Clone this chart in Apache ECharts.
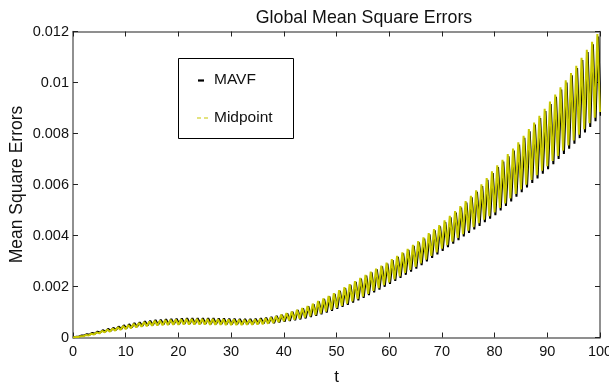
<!DOCTYPE html>
<html>
<head>
<meta charset="utf-8">
<script src="https://cdn.jsdelivr.net/npm/echarts@6/dist/echarts.min.js"></script>
<style>
  html, body { margin: 0; padding: 0; background: #fff; }
  #chart { width: 609px; height: 386px; }
</style>
</head>
<body>
<div id="chart"></div>
<script>
// Global mean square error of two integrators over time t = 0..100.
// Each error curve oscillates once per unit of t: troughs near whole t, peaks half a unit later.

const seriesNames = ['MAVF', 'Midpoint'];
const xTickLabels = ['0', '10', '20', '30', '40', '50', '60', '70', '80', '90', '100'];
const yTickLabels = ['0', '0.002', '0.004', '0.006', '0.008', '0.01', '0.012'];

// MAVF: troughs (t = k + 0.15, k = 0..100) and peaks (t = k + 0.65, k = 0..99)
const mavfTroughs = [
  0, 0.00004, 0.00008, 0.00011, 0.00015, 0.00019, 0.00023, 0.00026, 0.0003, 0.00033,
  0.00036, 0.00039, 0.00042, 0.00045, 0.00047, 0.00049, 0.0005, 0.00051, 0.00052, 0.00053,
  0.00053, 0.00054, 0.00054, 0.00054, 0.00054, 0.00054, 0.00053, 0.00053, 0.00053, 0.00052,
  0.00052, 0.00052, 0.00052, 0.00053, 0.00053, 0.00054, 0.00055, 0.00056, 0.00056, 0.00059,
  0.00062, 0.00065, 0.00068, 0.00071, 0.00075, 0.0008, 0.00085, 0.00091, 0.00098, 0.00105,
  0.00112, 0.0012, 0.00128, 0.00137, 0.00146, 0.00155, 0.00166, 0.00177, 0.00188, 0.00199,
  0.0021, 0.00222, 0.00234, 0.00246, 0.00258, 0.0027, 0.00284, 0.00298, 0.00312, 0.00326,
  0.0034, 0.00354, 0.00368, 0.00382, 0.00396, 0.0041, 0.00424, 0.00438, 0.00452, 0.00466,
  0.0048, 0.00498, 0.00516, 0.00534, 0.00552, 0.0057, 0.00588, 0.00606, 0.00624, 0.00642,
  0.0066, 0.0068, 0.007, 0.0072, 0.0074, 0.0076, 0.00782, 0.00804, 0.00826, 0.00848,
  0.0087
];
const mavfPeaks = [
  0.00003, 0.00008, 0.00013, 0.00018, 0.00023, 0.00029, 0.00034, 0.00038, 0.00043, 0.00048,
  0.00052, 0.00057, 0.0006, 0.00064, 0.00066, 0.00069, 0.0007, 0.00072, 0.00073, 0.00074,
  0.00075, 0.00076, 0.00076, 0.00076, 0.00076, 0.00076, 0.00076, 0.00075, 0.00075, 0.00074,
  0.00074, 0.00073, 0.00073, 0.00073, 0.00074, 0.00076, 0.00078, 0.00081, 0.00085, 0.00089,
  0.00095, 0.00101, 0.00108, 0.00115, 0.00123, 0.00131, 0.00141, 0.00151, 0.00161, 0.00171,
  0.00183, 0.00194, 0.00206, 0.00218, 0.00231, 0.00243, 0.00255, 0.00267, 0.00279, 0.0029,
  0.00303, 0.00316, 0.0033, 0.00344, 0.00359, 0.00373, 0.00388, 0.00404, 0.0042, 0.00436,
  0.00453, 0.00471, 0.0049, 0.00509, 0.00529, 0.0055, 0.00571, 0.00594, 0.00618, 0.00645,
  0.00668, 0.0069, 0.00711, 0.00733, 0.00757, 0.00783, 0.00809, 0.00835, 0.00861, 0.00888,
  0.00916, 0.00944, 0.00972, 0.01, 0.01028, 0.01057, 0.01088, 0.01119, 0.0115, 0.0118
];

// Midpoint: troughs (t = k, k = 0..100) and peaks (t = k + 0.5, k = 0..99)
const midTroughs = [
  0, 0.00002, 0.00005, 0.00008, 0.00012, 0.00016, 0.0002, 0.00023, 0.00027, 0.0003,
  0.00033, 0.00036, 0.00039, 0.00042, 0.00044, 0.00046, 0.00047, 0.00048, 0.00049, 0.0005,
  0.0005, 0.00051, 0.00051, 0.00051, 0.00051, 0.00051, 0.0005, 0.0005, 0.0005, 0.00049,
  0.00049, 0.00049, 0.00049, 0.0005, 0.0005, 0.00051, 0.00052, 0.00054, 0.00057, 0.0006,
  0.00064, 0.00067, 0.0007, 0.00074, 0.00078, 0.00083, 0.00088, 0.00094, 0.00102, 0.00109,
  0.00116, 0.00124, 0.00133, 0.00142, 0.00151, 0.0016, 0.00171, 0.00183, 0.00194, 0.00205,
  0.00216, 0.00228, 0.0024, 0.00253, 0.00265, 0.00277, 0.00291, 0.00305, 0.0032, 0.00334,
  0.00348, 0.00362, 0.00376, 0.00391, 0.00405, 0.00419, 0.00433, 0.00448, 0.00462, 0.00476,
  0.0049, 0.00508, 0.00526, 0.00545, 0.00563, 0.00581, 0.00599, 0.00618, 0.00636, 0.00654,
  0.00672, 0.00692, 0.00712, 0.00733, 0.00753, 0.00773, 0.00795, 0.00817, 0.0084, 0.00862,
  0.00884
];
const midPeaks = [
  0.00002, 0.00005, 0.0001, 0.00015, 0.0002, 0.00026, 0.00031, 0.00035, 0.0004, 0.00045,
  0.00049, 0.00054, 0.00057, 0.00061, 0.00063, 0.00066, 0.00067, 0.00069, 0.0007, 0.00071,
  0.00072, 0.00073, 0.00073, 0.00073, 0.00073, 0.00073, 0.00073, 0.00072, 0.00072, 0.00071,
  0.00071, 0.0007, 0.0007, 0.0007, 0.00071, 0.00073, 0.00076, 0.00079, 0.00084, 0.0009,
  0.00096, 0.00102, 0.00109, 0.00116, 0.00124, 0.00133, 0.00143, 0.00153, 0.00163, 0.00174,
  0.00186, 0.00197, 0.00209, 0.00221, 0.00234, 0.00246, 0.00258, 0.0027, 0.00282, 0.00294,
  0.00307, 0.0032, 0.00334, 0.00348, 0.00363, 0.00378, 0.00393, 0.00409, 0.00425, 0.00441,
  0.00459, 0.00477, 0.00496, 0.00515, 0.00535, 0.00556, 0.00577, 0.00601, 0.00625, 0.00652,
  0.00675, 0.00697, 0.00719, 0.00741, 0.00765, 0.00791, 0.00817, 0.00843, 0.00869, 0.00897,
  0.00925, 0.00953, 0.00981, 0.01009, 0.01037, 0.01066, 0.01097, 0.01128, 0.0116, 0.0119
];

const mavfShift = 0.15;   // MAVF lags the midpoint curve slightly
const midShift = 0;

// Interleave troughs and peaks into [t, value] pairs
function buildSeries(troughs, peaks, shift) {
  const out = [];
  for (let k = 0; k < troughs.length; k++) {
    out.push([k === 0 ? 0 : k + shift, troughs[k]]);
    if (k < peaks.length) out.push([k + 0.5 + shift, peaks[k]]);
  }
  return out;
}

const FONT = 'Liberation Sans, Arial, Helvetica, sans-serif';
const AXIS_GREY = '#6b6b6b';
const MID_COLOR = '#c8c800';

const chart = echarts.init(document.getElementById('chart'), null, { renderer: 'canvas' });

function axisLineStyle() {
  return { show: true, onZero: false, lineStyle: { color: AXIS_GREY, width: 1.5 } };
}
function axisTickStyle() {
  return { show: true, inside: true, length: 5, lineStyle: { color: '#222', width: 1 } };
}

chart.setOption({
  animation: false,
  backgroundColor: '#fff',
  grid: {
    left: 73, right: 9, top: 31.5, bottom: 48.5,
    containLabel: false, outerBoundsMode: 'none'
  },
  xAxis: [
    {
      type: 'value', min: 0, max: 100, interval: 10, position: 'bottom',
      axisLine: axisLineStyle(), axisTick: axisTickStyle(), splitLine: { show: false },
      name: 't', nameLocation: 'middle', nameGap: 31, nameMoveOverlap: false,
      nameTextStyle: { fontFamily: FONT, fontSize: 17, color: '#111' },
      axisLabel: {
        show: true, margin: 7, fontFamily: FONT, fontSize: 14.5, color: '#111',
        hideOverlap: false,
        formatter: (v) => xTickLabels[Math.round(v / 10)]
      }
    },
    {
      type: 'value', min: 0, max: 100, interval: 10, position: 'top',
      axisLine: axisLineStyle(), axisTick: axisTickStyle(), splitLine: { show: false },
      axisLabel: { show: false }
    }
  ],
  yAxis: [
    {
      type: 'value', min: 0, max: 0.012, interval: 0.002, position: 'left',
      axisLine: axisLineStyle(), axisTick: axisTickStyle(), splitLine: { show: false },
      name: 'Mean Square Errors', nameLocation: 'middle', nameGap: 47, nameMoveOverlap: false,
      nameTextStyle: { fontFamily: FONT, fontSize: 17.5, color: '#111' },
      axisLabel: {
        show: true, margin: 4, fontFamily: FONT, fontSize: 14.5, color: '#111',
        formatter: (v) => yTickLabels[Math.round(v / 0.002)]
      }
    },
    {
      type: 'value', min: 0, max: 0.012, interval: 0.002, position: 'right',
      axisLine: axisLineStyle(), axisTick: axisTickStyle(), splitLine: { show: false },
      axisLabel: { show: false }
    }
  ],
  title: {
    text: 'Global Mean Square Errors',
    left: 359, top: 4, textAlign: 'center',
    textStyle: { fontFamily: FONT, fontSize: 17.8, fontWeight: 'normal', color: '#111' }
  },
  series: [
    {
      name: seriesNames[0], type: 'line', xAxisIndex: 0, yAxisIndex: 0,
      data: buildSeries(mavfTroughs, mavfPeaks, mavfShift),
      showSymbol: false, symbol: 'none', z: 2,
      lineStyle: { color: '#000', width: 2 }
    },
    {
      name: seriesNames[1], type: 'line', xAxisIndex: 0, yAxisIndex: 0,
      data: buildSeries(midTroughs, midPeaks, midShift),
      showSymbol: false, symbol: 'none', z: 3,
      lineStyle: { color: MID_COLOR, width: 2 }
    }
  ],
  graphic: [
    {
      type: 'rect', left: 178, top: 58, z: 10,
      shape: { width: 115, height: 80 },
      style: { fill: '#fff', stroke: '#000', lineWidth: 1 }
    },
    {
      type: 'line', z: 11,
      shape: { x1: 198, y1: 80.5, x2: 204, y2: 80.5 },
      style: { stroke: '#000', lineWidth: 2.2 }
    },
    {
      type: 'text', left: 214, top: 72, z: 11,
      style: { text: seriesNames[0], font: '15.5px ' + FONT, fill: '#111' }
    },
    {
      type: 'line', z: 11,
      shape: { x1: 197, y1: 118, x2: 211, y2: 118 },
      style: { stroke: MID_COLOR, lineWidth: 1.2, lineDash: [4, 3] }
    },
    {
      type: 'text', left: 214, top: 110, z: 11,
      style: { text: seriesNames[1], font: '15.5px ' + FONT, fill: '#111' }
    }
  ]
});
</script>
</body>
</html>
